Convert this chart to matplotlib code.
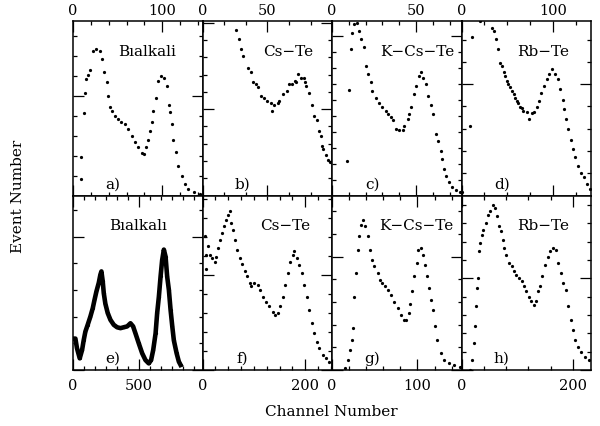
import matplotlib
matplotlib.use('Agg')
import matplotlib.pyplot as plt
from matplotlib.ticker import MultipleLocator, FuncFormatter

plt.rcParams['font.family'] = 'DejaVu Serif'

# y values are in % of panel height (arbitrary event number units)
a_x = [9.4, 9.4, 12, 13, 14, 17, 19.5, 22.5, 26, 30, 32.6, 35, 37.5, 39, 41, 44, 47, 50.5, 54, 58,
       62, 65.5, 69, 73, 77, 79, 82, 84, 86, 88, 90, 93, 95.5, 99, 102, 105, 107, 108.6, 110.5, 112,
       115, 118, 122, 125.5, 129, 135, 142]
a_y = [9.5, 22, 47, 58.7, 67, 69, 72, 83, 84, 83, 78, 70.5, 65, 57, 51, 48.6, 45.7, 44, 42, 41,
       38, 34, 30.5, 27.6, 24.4, 24, 27.6, 32, 37, 42, 48.6, 56, 65.7, 68.6, 67.6, 63, 52, 47.6, 41, 32,
       24.8, 17, 11.4, 6.7, 3.8, 1.9, 1]

b_x = [26, 28, 30, 31.4, 35, 37, 39, 41, 43, 45, 47.7, 50, 53, 53.6, 55, 58, 59, 62, 65, 67,
       69, 71, 72, 73.5, 76, 78, 79, 80, 82, 84, 86, 88, 89.7, 91, 92, 93, 95, 97, 98]
b_y = [95, 89.5, 84, 80, 72.8, 70.5, 64.8, 63.8, 62, 57, 56, 54, 53, 48.6, 52, 53, 54, 58, 60, 63.8,
       64, 65.7, 64.8, 69.5, 67.6, 67.6, 64.8, 63, 59, 52, 45.7, 43, 37, 34, 28.6, 26.7, 23, 20.6, 19]

c_x = [9, 10.3, 11, 12, 13, 15, 16, 17.5, 19, 20, 21.5, 23, 24, 26, 28, 30, 32, 33.4, 35, 36,
       38, 40, 42, 43, 45, 46, 47, 48.7, 50, 52, 52.7, 54, 55.7, 57, 58.6, 60, 61.6, 63, 64.6, 65.6,
       66.6, 68, 69.6, 71.6, 73.6, 76]
c_y = [20, 60.6, 84, 93, 98, 99, 94, 89.5, 85, 74, 69.5, 64.8, 60, 56, 53, 51, 48.6, 46.7, 44.8, 43,
       38, 37.7, 37.7, 40, 43.8, 46.7, 51, 58, 62.9, 68.6, 70.5, 67.6, 63.8, 57, 52, 46.7, 35, 31, 25.7, 21,
       15, 11.4, 7.6, 4.8, 2.9, 1.9]

d_x = [0.7, 9.7, 11, 20.6, 33, 35, 37.5, 39.7, 42, 44, 46, 47.7, 49.5, 51, 53, 55, 56.7, 58.5, 60, 62,
       64, 65.7, 67.5, 71, 73.6, 76.5, 79, 82, 84.5, 87, 90, 93, 95, 99, 102, 104.7, 107, 110, 112, 114,
       116, 119, 121.7, 124, 127, 130, 133.6, 137, 139.7]
d_y = [1.9, 40, 91, 100, 96, 94, 89.5, 84, 76, 74, 71, 68.6, 65.7, 63.8, 62, 60, 58, 56, 54, 53,
       51, 50, 48.6, 47.6, 43.8, 47, 47.6, 50.5, 54, 59, 63, 66.7, 69.5, 72.4, 69.5, 66.7, 61, 55, 49.5, 43.8,
       38, 32, 26.7, 22, 17, 13, 10.5, 6.7, 3.8]

e_x = [10, 18, 30, 51, 69, 81, 94, 112, 132, 150, 163, 178, 196, 208, 216, 226, 234, 246, 264, 285,
       310, 335, 361, 386, 412, 437, 457, 475, 500, 526, 551, 576, 594, 610, 628, 640, 653, 666, 678, 691,
       704, 716, 729, 742, 755, 767, 788, 805, 818]
e_y = [18, 18, 12.5, 6.7, 11.5, 17, 22, 26, 30.6, 35.4, 40, 45, 50, 54.6, 56.5, 50.8, 44, 38, 32.6, 28.7,
       25.9, 24.5, 24, 24.5, 25, 26.8, 25, 21, 15.3, 9.6, 5.7, 3.8, 5.7, 11.5, 21, 32.6, 42, 53.6, 63, 69,
       65, 53.6, 46, 34.5, 25, 17, 9.6, 4.8, 2.9]

f_x = [4.5, 6.5, 7.7, 11, 14, 19, 24, 27, 30, 33.5, 37, 41, 45, 50, 53, 56, 59, 62.6, 67, 72,
       77, 82, 86, 91.6, 95, 101, 108, 111, 117, 124, 130, 137, 142, 146, 151, 156, 161, 166, 170, 175.5,
       178.7, 183, 188, 193.5, 198, 202.6, 207.7, 213, 217, 222, 227, 233.5, 240, 246]
f_y = [76.6, 66, 58, 71, 66, 64, 62, 65, 70, 74.7, 78.5, 82.4, 86, 89, 91, 84, 80.5, 74.7, 69, 64,
       61, 56.5, 53.6, 49.8, 48, 49.8, 48.9, 46, 42, 39, 36.4, 33.5, 31.6, 32.6, 36.4, 42, 48.9, 55.6, 62, 66,
       68, 64, 60, 55.6, 48.9, 42, 34.5, 26.8, 21, 16.3, 12.5, 8.6, 6.7, 4.8]

g_x = [15.6, 18.3, 21, 23.4, 25, 26, 28, 30, 32, 34, 36, 39, 41.7, 44.4, 46.7, 49.5, 53.3, 56, 59, 62,
       65, 69, 72.8, 76.7, 80.6, 84.5, 87, 89.6, 91.5, 93.5, 96, 99, 101, 104, 106.7, 109, 111, 113, 115.6,
       118.4, 120.7, 123.4, 127.3, 131, 137, 143, 149.5]
g_y = [1, 5.7, 11.5, 17, 24, 42, 55.6, 69, 76.6, 83.3, 86, 82.4, 76.6, 69, 63, 59.4, 55.6, 51.7, 49.8, 48,
       46, 43, 39, 35.4, 31.6, 28.7, 28.7, 32.6, 38, 45, 53.6, 61.3, 69, 70, 66, 60, 53.6, 47, 40,
       34.5, 25, 17, 9.6, 5.7, 3.8, 2.9, 1.9]

h_x = [14.7, 19.4, 21.8, 23.5, 26.5, 27.6, 29.4, 32, 34, 37, 39.4, 43, 47, 51, 56, 60.6, 63, 66.5, 70.6, 73.5,
       76.5, 80.6, 85.3, 90, 94, 98, 103, 107.6, 111.8, 116, 120.6, 125, 129, 133.5, 137, 141, 145, 150, 154.7,
       158.8, 164.7, 168.8, 173.5, 178, 182, 186.5, 191, 196, 200, 204, 209, 214.7, 220.6, 227.6]
h_y = [0, 5.7, 15.3, 25, 36.4, 47, 52.7, 68, 72.8, 77.6, 80.5, 84.3, 89, 91, 94.8, 93, 88, 82.4, 79.5, 74.7,
       70, 66, 61.3, 59.4, 56.5, 54.6, 52.7, 50.8, 48, 45, 42, 39.3, 37.4, 39.3, 45, 48, 53.6, 60, 65,
       68, 70, 69, 61.3, 55.6, 50, 46, 36.4, 28.7, 23, 17, 13.4, 10.5, 7.7, 5.7]

names = ['Bıalkali', 'Cs−Te', 'K−Cs−Te', 'Rb−Te', 'Bıalkalı', 'Cs−Te', 'K−Cs−Te', 'Rb−Te']
letters = ['a)', 'b)', 'c)', 'd)', 'e)', 'f)', 'g)', 'h)']
xs = [a_x, b_x, c_x, d_x, e_x, f_x, g_x, h_x]
ys = [a_y, b_y, c_y, d_y, e_y, f_y, g_y, h_y]
xmax = [145, 99.8, 77, 141, 985, 252, 151.5, 232]
xmajor = [100, 50, 50, 100, 500, 200, 100, 200]
xminor = [20, 50 / 3, 10, 25, 500 / 6, 25, 20, 40]
ystep = [11.43, 9.9, 9.14, 12.76, 15.3, 10.9, 13.0, 10.5]
ymajor_n = [5, 5, 10, 5, 5, 5, 5, 5]
name_pos = [0.57, 0.66, 0.66, 0.63, 0.5, 0.64, 0.65, 0.63]

fig, axes = plt.subplots(2, 4, figsize=(6, 4.27), dpi=100)
fig.subplots_adjust(left=0.1217, right=0.985, top=0.9485, bottom=0.1311, wspace=0, hspace=0)

for i, ax in enumerate(axes.flat):
    if i == 4:
        # the Bialkali spectrum is so dense it looks like a thick band
        ax.plot(xs[i], ys[i], '-', color='k', lw=3.3)
    ax.plot(xs[i], ys[i], 'k.', markersize=2.6)
    ax.set_xlim(0, xmax[i])
    ax.set_ylim(0, 100)
    ax.xaxis.set_major_locator(MultipleLocator(xmajor[i]))
    ax.xaxis.set_minor_locator(MultipleLocator(xminor[i]))
    ax.yaxis.set_major_locator(MultipleLocator(ystep[i] * ymajor_n[i]))
    ax.yaxis.set_minor_locator(MultipleLocator(ystep[i]))
    ax.xaxis.set_major_formatter(FuncFormatter(lambda v, p: '%d' % round(v)))
    ax.tick_params(which='both', direction='in', top=True, right=True,
                   labelleft=False, labelsize=10.5, width=0.9)
    ax.tick_params(which='major', length=8)
    ax.tick_params(which='minor', length=3)
    if i < 4:
        ax.tick_params(labelbottom=False, labeltop=True, pad=3)
    else:
        ax.tick_params(labelbottom=True, labeltop=False, pad=6)
    for sp in ax.spines.values():
        sp.set_linewidth(1.1)
    ax.text(name_pos[i], 0.83, names[i], transform=ax.transAxes, ha='center',
            va='center', fontsize=11)
    ax.text(0.31, 0.07, letters[i], transform=ax.transAxes, ha='center',
            va='center', fontsize=11)

fig.text(0.553, 0.035, 'Channel Number', ha='center', va='center', fontsize=11)
fig.text(0.03, 0.54, 'Event Number', ha='center', va='center', rotation=90, fontsize=11)

fig.savefig('out.png', dpi=100)
